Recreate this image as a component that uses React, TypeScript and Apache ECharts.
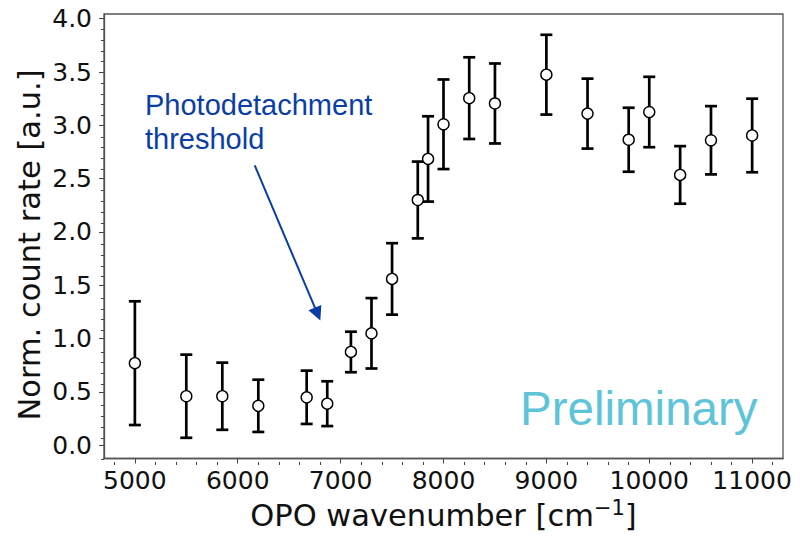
import React, { useEffect, useRef } from "react";
import * as echarts from "echarts";

const wavenumbers = [5000, 5500, 5850, 6200, 6670, 6870, 7100, 7300, 7500, 7750, 7850, 8000, 8250, 8500, 9000, 9400, 9800, 10000, 10300, 10600, 11000];
const rates = [0.77, 0.46, 0.46, 0.37, 0.45, 0.39, 0.875, 1.05, 1.56, 2.3, 2.685, 3.01, 3.255, 3.205, 3.475, 3.11, 2.865, 3.125, 2.535, 2.86, 2.905];
const errors = [0.58, 0.39, 0.315, 0.245, 0.25, 0.21, 0.19, 0.33, 0.335, 0.36, 0.4, 0.42, 0.383, 0.375, 0.374, 0.328, 0.3, 0.33, 0.27, 0.32, 0.345];

const xMajorTicks = [5000, 6000, 7000, 8000, 9000, 10000, 11000];
const xMinorTicks = [4800, 5200, 5400, 5600, 5800, 6200, 6400, 6600, 6800, 7200, 7400, 7600, 7800, 8200, 8400, 8600, 8800, 9200, 9400, 9600, 9800, 10200, 10400, 10600, 10800, 11200];
const yMajorTicks = [0, 0.5, 1, 1.5, 2, 2.5, 3, 3.5, 4];
const yMinorTicks = [-0.1, 0.1, 0.2, 0.3, 0.4, 0.6, 0.7, 0.8, 0.9, 1.1, 1.2, 1.3, 1.4, 1.6, 1.7, 1.8, 1.9, 2.1, 2.2, 2.3, 2.4, 2.6, 2.7, 2.8, 2.9, 3.1, 3.2, 3.3, 3.4, 3.6, 3.7, 3.8, 3.9];

const arrowStart = [6165, 2.624];
const arrowTip = [6803, 1.17];

const X_MIN = 4700;
const X_MAX = 11300;
const Y_MIN = -0.124;
const Y_MAX = 4.044;

export default function App() {
  const ref = useRef<HTMLDivElement>(null);
  useEffect(() => {
    if (!ref.current) return;
    const chart = echarts.init(ref.current, null, { renderer: "svg" });
    const tickColor = "#444";
    const gridPos = { left: 104, right: 19, top: 14, bottom: 74 };
    const textGraphics: any[] = [
      {
        type: "text",
        id: "ylabel",
        x: 29,
        y: 245,
        rotation: Math.PI / 2,
        style: {
          text: "Norm. count rate [a.u.]",
          font: '30.5px "DejaVu Sans"',
          fill: "#111",
          align: "center",
          verticalAlign: "middle",
        },
      },
      {
        type: "text",
        id: "photo",
        x: 145,
        y: 88,
        style: {
          text: "Photodetachment\nthreshold",
          font: '29px "Liberation Sans"',
          fill: "#0a3ea6",
          lineHeight: 34,
          verticalAlign: "top",
        },
      },
      {
        type: "text",
        id: "prelim",
        x: 520,
        y: 408,
        style: {
          text: "Preliminary",
          font: '47.5px "Liberation Sans"',
          fill: "#5ec4d8",
          verticalAlign: "middle",
          align: "left",
        },
      },
    ];
    const option: any = {
      animation: false,
      backgroundColor: "#fff",
      grid: [
        { ...gridPos, show: true, borderColor: "#555", borderWidth: 1.3, backgroundColor: "transparent" },
        { ...gridPos, show: false },
      ],
      xAxis: [
        {
          type: "value",
          gridIndex: 0,
          min: X_MIN,
          max: X_MAX,
          splitLine: { show: false },
          axisLine: { show: true, onZero: false, lineStyle: { color: "#555", width: 1.3 } },
          axisTick: { show: true, customValues: xMajorTicks, length: 5, lineStyle: { color: tickColor, width: 1 } },
          axisLabel: {
            customValues: xMajorTicks,
            margin: 9,
            fontFamily: "DejaVu Sans",
            fontSize: 25,
            color: "#111",
            formatter: (v: number) => String(v),
          },
          name: "{m|OPO wavenumber [cm}{s|−1}{m|]}",
          nameLocation: "middle",
          nameGap: 39,
          nameTextStyle: {
            rich: {
              m: { fontFamily: "DejaVu Sans", fontSize: 30.5, color: "#111", lineHeight: 36 },
              s: { fontFamily: "DejaVu Sans", fontSize: 21, color: "#111", lineHeight: 23, verticalAlign: "top" },
            },
          },
        },
        {
          type: "value",
          gridIndex: 1,
          min: X_MIN,
          max: X_MAX,
          splitLine: { show: false },
          axisLine: { show: false, onZero: false },
          axisTick: { show: true, customValues: xMinorTicks, length: 3, lineStyle: { color: tickColor, width: 1 } },
          axisLabel: { show: false },
        },
      ],
      yAxis: [
        {
          type: "value",
          gridIndex: 0,
          min: Y_MIN,
          max: Y_MAX,
          splitLine: { show: false },
          axisLine: { show: true, onZero: false, lineStyle: { color: "#555", width: 1.3 } },
          axisTick: { show: true, customValues: yMajorTicks, length: 5, lineStyle: { color: tickColor, width: 1 } },
          axisLabel: {
            customValues: yMajorTicks,
            margin: 12,
            fontFamily: "DejaVu Sans",
            fontSize: 25,
            color: "#111",
            formatter: (v: number) => v.toFixed(1),
          },
        },
        {
          type: "value",
          gridIndex: 1,
          min: Y_MIN,
          max: Y_MAX,
          splitLine: { show: false },
          axisLine: { show: false, onZero: false },
          axisTick: { show: true, customValues: yMinorTicks, length: 3, lineStyle: { color: tickColor, width: 1 } },
          axisLabel: { show: false },
        },
      ],
      graphic: textGraphics,
      series: [
        {
          type: "custom",
          xAxisIndex: 0,
          yAxisIndex: 0,
          data: wavenumbers.map((w, i) => [w, rates[i], errors[i]]),
          renderItem: (params: any, api: any) => {
            const x = api.value(0);
            const y = api.value(1);
            const e = api.value(2);
            const top = api.coord([x, y + e]);
            const bot = api.coord([x, y - e]);
            const hw = 6;
            const st = { stroke: "#000", lineWidth: 2.7 };
            return {
              type: "group",
              children: [
                { type: "line", shape: { x1: top[0], y1: top[1], x2: bot[0], y2: bot[1] }, style: st },
                { type: "line", shape: { x1: top[0] - hw, y1: top[1], x2: top[0] + hw, y2: top[1] }, style: st },
                { type: "line", shape: { x1: bot[0] - hw, y1: bot[1], x2: bot[0] + hw, y2: bot[1] }, style: st },
              ],
            };
          },
          z: 2,
        },
        {
          type: "scatter",
          xAxisIndex: 0,
          yAxisIndex: 0,
          data: wavenumbers.map((w, i) => [w, rates[i]]),
          symbol: "circle",
          symbolSize: 11,
          itemStyle: { color: "#fff", borderColor: "#000", borderWidth: 1.4, opacity: 1 },
          z: 3,
        },
      ],
    };
    chart.setOption(option);

    // arrow annotation, positioned through the chart's own coordinate conversion
    const p0 = chart.convertToPixel({ xAxisIndex: 0, yAxisIndex: 0 }, arrowStart) as number[];
    const p1 = chart.convertToPixel({ xAxisIndex: 0, yAxisIndex: 0 }, arrowTip) as number[];
    const dx = p1[0] - p0[0];
    const dy = p1[1] - p0[1];
    const len = Math.sqrt(dx * dx + dy * dy);
    const ux = dx / len;
    const uy = dy / len;
    const headLen = 14;
    const headHalf = 7;
    const bx = p1[0] - ux * headLen;
    const by = p1[1] - uy * headLen;
    const nx = uy;
    const ny = -ux;
    chart.setOption({
      graphic: [
        ...textGraphics,
        {
          type: "line",
          id: "arrowLine",
          shape: { x1: p0[0], y1: p0[1], x2: bx + ux * 2, y2: by + uy * 2 },
          style: { stroke: "#0a3ea6", lineWidth: 2 },
          z: 10,
        },
        {
          type: "polygon",
          id: "arrowHead",
          shape: {
            points: [
              [p1[0], p1[1]],
              [bx + nx * headHalf, by + ny * headHalf],
              [bx - nx * headHalf, by - ny * headHalf],
            ],
          },
          style: { fill: "#0a3ea6" },
          z: 10,
        },
      ],
    });
    return () => chart.dispose();
  }, []);
  return <div ref={ref} style={{ position: "fixed", left: 0, top: 0, width: 802, height: 536 }} />;
}
